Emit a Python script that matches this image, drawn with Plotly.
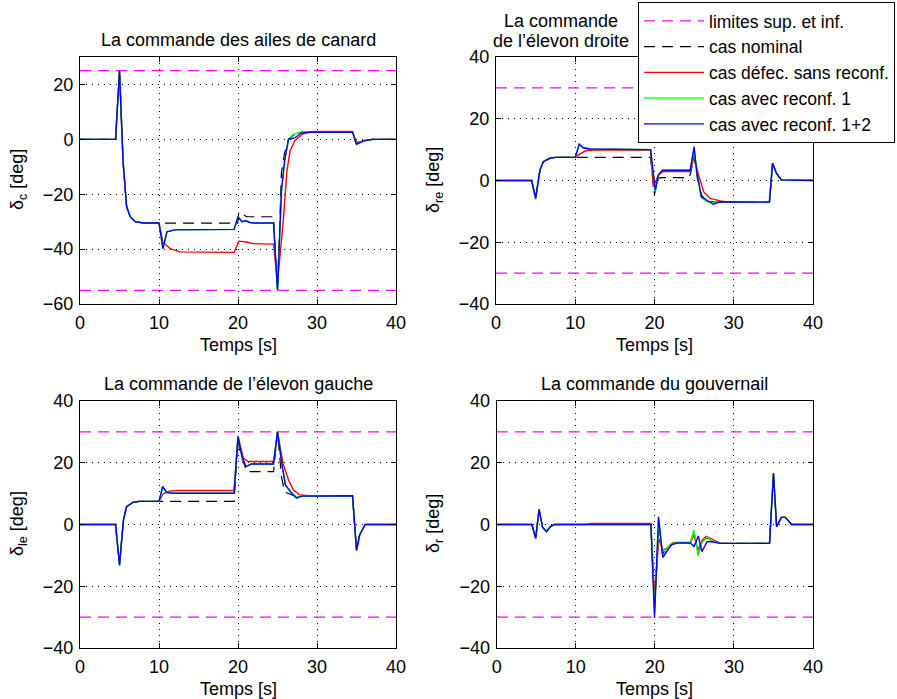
import plotly.graph_objects as go

# ---------------- data ----------------
# Top-left: canard
TL_lim = [25, -55]
TL_t_nom = [0, 4.5, 5.0, 5.45, 5.9, 6.35, 7.0, 8.0, 19.96, 20.1, 21.1, 24.5, 25.0, 25.5, 25.9, 26.4, 27.0, 28.0, 34.5, 35.0, 36.0, 37.0, 40]
TL_nom = [0, 0, 25, -8, -24.5, -28.2, -30, -30.5, -30.5, -26.4, -28.2, -28.2, -55, -12, -5, 0, 1.5, 2.6, 2.6, -1.8, -0.5, 0, 0]
TL_t_red = [0, 4.5, 5.0, 5.45, 5.9, 6.35, 7.0, 8.0, 10.0, 10.5, 11.4, 12.7, 19.5, 20.1, 21.1, 21.9, 24.5, 25.0, 25.7, 26.2, 26.6, 27.2, 28.1, 29.5, 34.5, 35.0, 36.0, 37.0, 40]
TL_red = [0, 0, 25, -8, -24.5, -28.2, -30, -30.5, -30.5, -37.5, -39.8, -41.0, -41.2, -37.1, -37.4, -38.0, -38.2, -52, -30.8, -11.4, -4.1, -0.5, 1.9, 2.9, 2.9, -1.2, -0.4, 0, 0]
TL_t_grn = [0, 4.5, 5.0, 5.45, 5.9, 6.35, 7.0, 8.0, 10.0, 10.5, 11.0, 12.0, 19.5, 20.0, 20.5, 21.0, 21.5, 22.0, 24.5, 25.0, 25.5, 25.9, 26.4, 27.0, 27.7, 29.0, 34.5, 35.0, 36.0, 37.0, 40]
TL_grn = [0, 0, 25, -8, -24.5, -28.2, -30, -30.5, -30.5, -39.8, -33.7, -33.0, -32.8, -28.2, -30, -29.7, -30.3, -30.5, -30.5, -55, -18.7, -7.8, 0.1, 1.8, 2.4, 2.6, 2.6, -1.8, -0.5, 0, 0]
TL_t_blu = [0, 4.5, 5.0, 5.45, 5.9, 6.35, 7.0, 8.0, 10.0, 10.5, 11.0, 12.0, 19.5, 20.0, 20.5, 21.0, 21.5, 22.0, 24.5, 25.0, 25.5, 25.9, 26.4, 27.2, 27.9, 29.0, 34.5, 35.0, 36.0, 37.0, 40]
TL_blu = [0, 0, 25, -8, -24.5, -28.2, -30, -30.5, -30.5, -39.8, -33.7, -33.0, -32.8, -28.2, -30, -29.7, -30.3, -30.5, -30.5, -55, -18.7, -7.8, 0.1, 0.5, 2.2, 2.6, 2.6, -1.8, -0.5, 0, 0]

# Top-right: right elevon
TR_lim = [30, -30]
TR_t_nom = [0, 4.5, 5.0, 5.55, 5.97, 6.8, 7.5, 19.5, 20.0, 20.4, 21.0, 24.4, 24.6, 25.0, 25.5, 26.0, 26.6, 27.5, 34.5, 34.9, 35.4, 36.0, 40]
TR_nom = [0, 0, -5.8, 3.4, 6.1, 7.2, 7.5, 7.5, -4.7, 0.7, 0.9, 0.9, 2.9, 8.0, -1.0, -5.0, -6.5, -7.0, -7.0, 5.6, 2.3, 0.2, 0]
TR_t_red = [0, 4.5, 5.0, 5.55, 5.97, 6.8, 7.5, 10.0, 10.6, 11.4, 12.5, 19.5, 19.85, 20.5, 21.1, 24.5, 25.0, 25.5, 26.2, 27.0, 28.3, 29.3, 34.5, 34.9, 35.4, 36.0, 40]
TR_red = [0, 0, -5.5, 3.4, 6.1, 7.2, 7.5, 7.5, 8.6, 9.7, 9.9, 9.9, -2.0, 1.8, 2.9, 2.9, 7.7, 2.3, -3.6, -5.8, -6.6, -7.0, -7.0, 5.6, 2.3, 0.2, 0]
TR_t_grn = [0, 4.5, 5.0, 5.55, 5.97, 6.8, 7.5, 10.0, 10.5, 11.0, 11.9, 19.5, 20.1, 20.5, 21.0, 24.5, 25.0, 25.3, 25.9, 26.6, 27.4, 28.3, 34.5, 34.9, 35.4, 36.0, 40]
TR_grn = [0, 0, -6.2, 3.4, 6.1, 7.2, 7.5, 7.5, 11.5, 10.6, 10.2, 10.0, -3.5, 1.8, 3.3, 3.3, 10.0, 3.4, -5.5, -6.8, -7.3, -6.9, -7.0, 5.6, 2.3, 0.2, 0]
TR_t_blu = [0, 4.5, 5.0, 5.55, 5.97, 6.8, 7.5, 10.0, 10.5, 11.0, 11.9, 19.5, 20.1, 20.5, 21.0, 24.5, 25.0, 25.3, 25.9, 26.6, 27.4, 28.3, 34.5, 34.9, 35.4, 36.0, 40]
TR_blu = [0, 0, -5.8, 3.4, 6.1, 7.2, 7.5, 7.5, 11.8, 10.6, 10.2, 10.0, -3.1, 1.8, 3.3, 3.3, 11.0, 3.4, -5.2, -6.3, -7.7, -6.9, -7.0, 5.6, 2.3, 0.2, 0]

# Bottom-left: left elevon
BL_lim = [30, -30]
BL_t_nom = [0, 4.5, 5.0, 5.5, 5.9, 6.75, 7.5, 19.5, 20.0, 20.25, 21.1, 24.5, 25.0, 25.5, 25.9, 26.8, 27.4, 28.1, 34.5, 35.0, 35.4, 36.1, 40]
BL_nom = [0, 0, -13.1, 1.5, 5.8, 7.2, 7.5, 7.5, 27.5, 23.6, 17.1, 17.1, 30, 15.5, 10.5, 9.5, 9.0, 9.3, 9.3, -8.3, -3.4, 0, 0]
BL_t_red = [0, 4.5, 5.0, 5.5, 5.9, 6.75, 7.5, 10.0, 10.5, 11.4, 12.5, 19.5, 20.0, 20.7, 21.3, 24.5, 25.0, 25.7, 26.4, 27.0, 27.8, 29.0, 34.5, 35.0, 35.4, 36.1, 40]
BL_red = [0, 0, -13.0, 1.5, 5.8, 7.2, 7.5, 7.5, 9.9, 10.9, 11.0, 11.0, 28.5, 21.4, 20.4, 20.4, 30, 19.8, 14.4, 11.2, 9.6, 9.3, 9.3, -8.5, -3.4, 0, 0]
BL_t_grn = [0, 4.5, 5.0, 5.5, 5.9, 6.75, 7.5, 10.0, 10.46, 11.0, 12.0, 19.5, 20.0, 20.5, 21.0, 21.7, 24.5, 25.0, 25.5, 26.0, 26.8, 27.4, 28.1, 34.5, 35.0, 35.4, 36.1, 40]
BL_grn = [0, 0, -13.5, 1.5, 5.8, 7.2, 7.5, 7.5, 12.0, 10.3, 10.1, 10.1, 28.5, 22.0, 18.9, 19.6, 19.6, 30, 20.4, 12.8, 10.1, 9.0, 9.2, 9.3, -8.3, -3.4, 0, 0]
BL_t_blu = [0, 4.5, 5.0, 5.5, 5.9, 6.75, 7.5, 10.0, 10.46, 11.0, 12.0, 19.5, 20.0, 20.5, 21.0, 21.7, 24.5, 25.0, 25.5, 26.0, 26.8, 27.4, 28.1, 34.5, 35.0, 35.4, 36.1, 40]
BL_blu = [0, 0, -13.1, 1.5, 5.8, 7.2, 7.5, 7.5, 12.3, 10.3, 10.1, 10.1, 28.5, 22.0, 18.7, 19.6, 19.6, 30, 20.4, 12.8, 10.1, 8.5, 9.2, 9.3, -8.3, -3.4, 0, 0]

# Bottom-right: rudder
BR_lim = [30, -30]
BR_t_nom = [0, 4.45, 4.93, 5.36, 5.8, 6.3, 6.8, 7.3, 19.5, 19.96, 20.5, 21.0, 21.5, 22.2, 24.5, 24.95, 25.45, 26.0, 26.6, 27.4, 28.3, 34.5, 35.0, 35.4, 36.0, 36.5, 37.3, 40]
BR_nom = [0, 0, -4.3, 4.7, -0.9, -2.2, -0.7, 0, 0, -27, 0, -9.5, -7.5, -6.0, -6.0, -2.5, -9.9, -5.5, -4.2, -5.6, -6.1, -6.1, 16.6, -0.7, 2.3, 2.3, 0, 0]
BR_t_red = [0, 4.45, 4.93, 5.36, 5.8, 6.3, 6.8, 7.3, 11.0, 12.0, 19.5, 19.96, 20.5, 21.0, 21.5, 22.4, 24.5, 24.95, 25.45, 26.0, 26.5, 27.4, 28.3, 34.5, 35.0, 35.4, 36.0, 36.5, 37.3, 40]
BR_red = [0, 0, -4.5, 4.9, -0.9, -2.3, -0.7, 0, 0, 0.3, 0.3, -23.4, -4.5, -8.3, -7.7, -5.8, -5.8, -3.4, -8.3, -5.0, -3.8, -5.0, -6.1, -6.1, 16.6, -0.7, 2.3, 2.3, 0, 0]
BR_t_grn = [0, 4.45, 4.93, 5.36, 5.8, 6.3, 6.8, 7.3, 19.5, 19.96, 20.5, 21.0, 21.5, 22.2, 22.8, 24.5, 24.95, 25.45, 26.0, 26.6, 27.4, 28.3, 34.5, 35.0, 35.4, 36.0, 36.5, 37.3, 40]
BR_grn = [0, 0, -4.2, 4.5, -0.9, -2.0, -0.7, 0, 0, -28, 1.5, -10.5, -8.0, -6.1, -5.9, -5.9, -1.8, -9.9, -5.6, -4.0, -5.6, -6.1, -6.1, 16.6, -0.7, 2.3, 2.3, 0, 0]
BR_t_blu = [0, 4.45, 4.93, 5.36, 5.8, 6.3, 6.8, 7.3, 19.5, 19.96, 20.46, 21.0, 21.5, 22.1, 22.8, 24.5, 24.95, 25.5, 25.95, 26.6, 27.2, 28.3, 34.5, 35.0, 35.4, 36.0, 36.5, 37.3, 40]
BR_blu = [0, 0, -4.5, 4.9, -0.9, -2.3, -0.7, 0, 0, -30.2, 2.5, -10.7, -8.8, -6.6, -6.0, -6.0, -7.1, -3.7, -8.8, -5.6, -5.6, -6.1, -6.1, 16.6, -0.7, 2.3, 2.3, 0, 0]

T_RANGE = [0, 40]
X_TICKS = [0, 10, 20, 30, 40]

SERIES_NAMES = ["limites sup. et inf.", "cas nominal", "cas défec. sans reconf.",
                "cas avec reconf. 1", "cas avec reconf. 1+2"]

TITLES = ["La commande des ailes de canard", "La commande\nde l’élevon droite",
          "La commande de l’élevon gauche", "La commande du gouvernail"]
YLABELS = ["δ<sub>c</sub> [deg]", "δ<sub>re</sub> [deg]", "δ<sub>le</sub> [deg]", "δ<sub>r</sub> [deg]"]
XLABEL = "Temps [s]"

# ---------------- layout geometry (pixels) ----------------
W, H = 897, 699
FONT = "Liberation Sans, Arial, Helvetica, sans-serif"
FS = 18

def px(x):
    return x / W

def py(y):
    return 1 - y / H

boxes = [  # left, right, top, bottom in px
    (80, 396, 57, 304),
    (496, 813, 57, 304),
    (80, 396, 401, 648),
    (496.7, 813, 401, 648),
]
yranges = [[-60, 30], [-40, 40], [-40, 40], [-40, 40]]

panels = [
    (TL_lim, TL_t_nom, TL_nom, TL_t_red, TL_red, TL_t_grn, TL_grn, TL_t_blu, TL_blu),
    (TR_lim, TR_t_nom, TR_nom, TR_t_red, TR_red, TR_t_grn, TR_grn, TR_t_blu, TR_blu),
    (BL_lim, BL_t_nom, BL_nom, BL_t_red, BL_red, BL_t_grn, BL_grn, BL_t_blu, BL_blu),
    (BR_lim, BR_t_nom, BR_nom, BR_t_red, BR_red, BR_t_grn, BR_grn, BR_t_blu, BR_blu),
]

fig = go.Figure()
for i, p in enumerate(panels):
    lim, tn, vn, tr, vr, tg, vg, tb, vb = p
    xa = "x" if i == 0 else f"x{i+1}"
    ya = "y" if i == 0 else f"y{i+1}"
    show = i == 0
    fig.add_trace(go.Scatter(
        x=[T_RANGE[0], T_RANGE[1], None, T_RANGE[0], T_RANGE[1]],
        y=[lim[0], lim[0], None, lim[1], lim[1]],
        mode="lines", line=dict(color="#ff00ff", width=1.3, dash="11px,7px"),
        name=SERIES_NAMES[0], showlegend=show, xaxis=xa, yaxis=ya, legendrank=1))
    fig.add_trace(go.Scatter(x=tn, y=vn, mode="lines",
        line=dict(color="black", width=1.2, dash="11px,7px"),
        name=SERIES_NAMES[1], showlegend=show, xaxis=xa, yaxis=ya, legendrank=2))
    fig.add_trace(go.Scatter(x=tr, y=vr, mode="lines",
        line=dict(color="#ff0000", width=1.4),
        name=SERIES_NAMES[2], showlegend=show, xaxis=xa, yaxis=ya, legendrank=3))
    fig.add_trace(go.Scatter(x=tg, y=vg, mode="lines",
        line=dict(color="#00ff00", width=1.4),
        name=SERIES_NAMES[3], showlegend=show, xaxis=xa, yaxis=ya, legendrank=4))
    fig.add_trace(go.Scatter(x=tb, y=vb, mode="lines",
        line=dict(color="#0000ff", width=1.4),
        name=SERIES_NAMES[4], showlegend=show, xaxis=xa, yaxis=ya, legendrank=5))

axis_common = dict(
    showline=True, linecolor="black", linewidth=1, mirror="ticks",
    ticks="inside", ticklen=5, tickcolor="black", tickwidth=1,
    showgrid=True, gridcolor="black", gridwidth=1, griddash="1px,5px",
    zeroline=False, automargin=False,
    tickfont=dict(family=FONT, size=FS, color="black"),
)

layout = dict(
    width=W, height=H, autosize=False,
    margin=dict(l=0, r=0, t=0, b=0, pad=0, autoexpand=False),
    plot_bgcolor="white", paper_bgcolor="white",
    font=dict(family=FONT, size=FS, color="black"),
    legend=dict(x=px(638), y=py(2), xanchor="left", yanchor="top",
                bgcolor="white", bordercolor="black", borderwidth=1,
                font=dict(family=FONT, size=17.5, color="black"),
                itemwidth=60, tracegroupgap=0, traceorder="normal"),
    showlegend=True,
)
for i, (l, r, t, b) in enumerate(boxes):
    xk = "xaxis" if i == 0 else f"xaxis{i+1}"
    yk = "yaxis" if i == 0 else f"yaxis{i+1}"
    xa = "x" if i == 0 else f"x{i+1}"
    ya = "y" if i == 0 else f"y{i+1}"
    layout[xk] = dict(domain=[px(l), px(r)], range=T_RANGE, tickvals=X_TICKS,
                      anchor=ya, ticklabelstandoff=2, **axis_common)
    layout[yk] = dict(domain=[py(b), py(t)], range=yranges[i], dtick=20, tick0=0,
                      anchor=xa, ticklabelstandoff=2, **axis_common)
fig.update_layout(**layout)

ann = []
def add_text(text, x, y, angle=0):
    ann.append(dict(text=text, x=px(x), y=py(y), xref="paper", yref="paper",
                    xanchor="center", yanchor="middle", showarrow=False,
                    textangle=angle, font=dict(family=FONT, size=FS, color="black")))

# titles
add_text(TITLES[0], 238, 40)
tr_lines = TITLES[1].split("\n")
add_text(tr_lines[0], 561, 21)
add_text(tr_lines[1], 561, 41)
add_text(TITLES[2], 238, 384)
add_text(TITLES[3], 654, 384)
# x labels
for cx, cy in [(238, 345), (654, 345), (238, 689), (654, 689)]:
    add_text(XLABEL, cx, cy)
# y labels
for lab, cx, cy in zip(YLABELS, [18, 434, 18, 434], [180, 180, 524, 524]):
    add_text(lab, cx, cy, -90)
fig.update_layout(annotations=ann)

fig.write_html("out.html", config={"displayModeBar": False},
               post_script="document.body.style.margin='0px';document.body.style.overflow='hidden';")
